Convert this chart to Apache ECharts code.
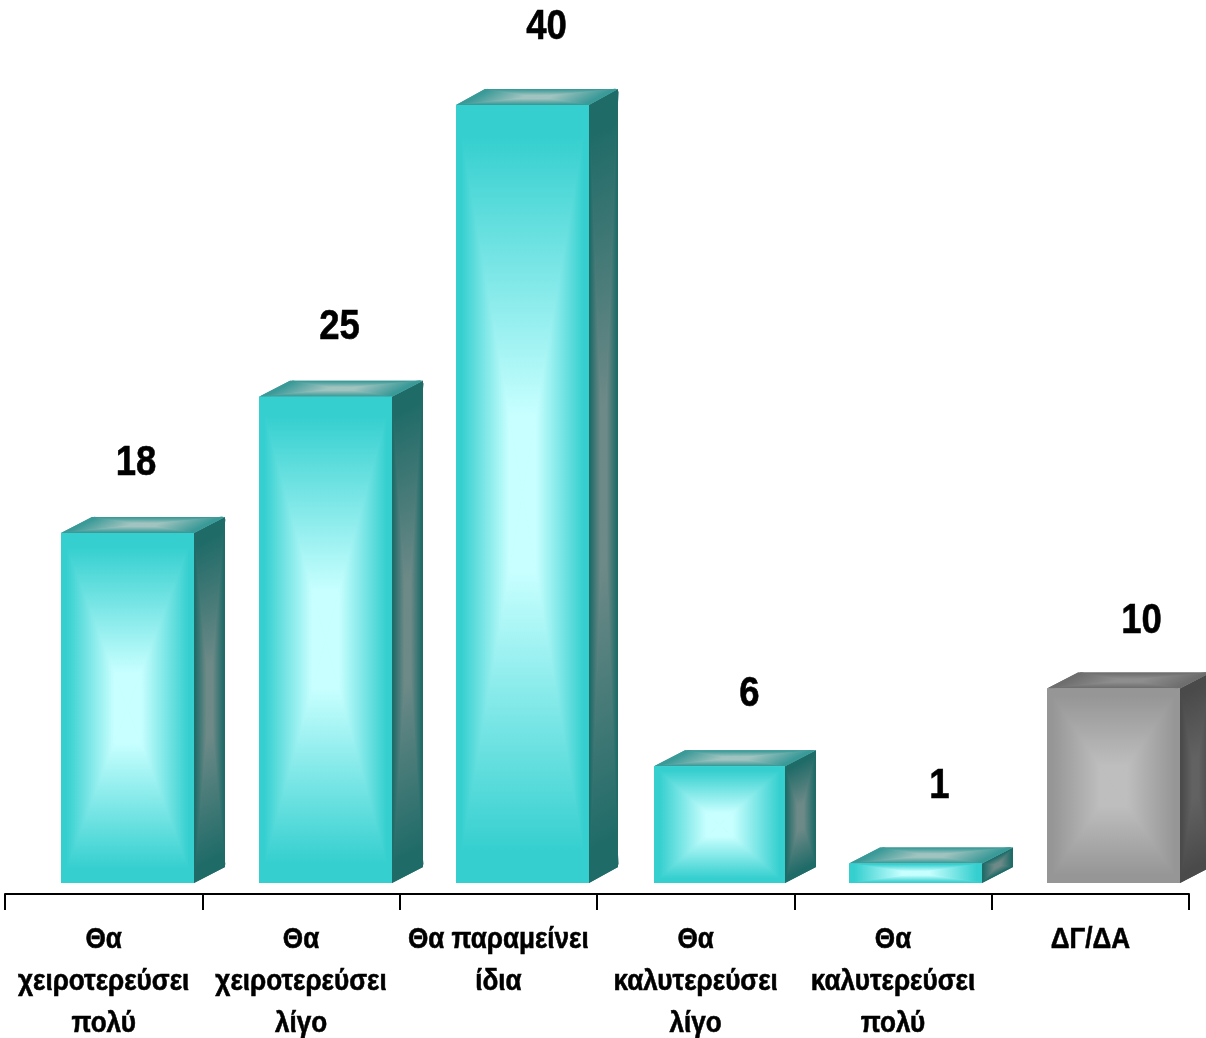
<!DOCTYPE html>
<html>
<head>
<meta charset="utf-8">
<style>html,body{margin:0;padding:0;background:#fff}#c{width:1206px;height:1038px}</style>
<script src="https://cdn.jsdelivr.net/npm/echarts@6/dist/echarts.min.js"></script>
</head>
<body>
<div id="c"></div>
<script>
var categories = ['Θα\nχειροτερεύσει\nπολύ','Θα\nχειροτερεύσει\nλίγο','Θα παραμείνει\nίδια','Θα\nκαλυτερεύσει\nλίγο','Θα\nκαλυτερεύσει\nπολύ','ΔΓ/ΔΑ'];
var values = [18,25,40,6,1,10];

var FONT = '"Liberation Sans",Arial,sans-serif';
var barShift = [24,24.5,24,24.9,22.5,23];
var barWidth = [133,133,133,131,133,133];
var barDepth = [31,31,29,31,31,31];
var labelDX = [8.5,14,24,29,24,28];
var labelDY = [-70,-70,-78,-72,-77,-67];
var teal = {front:['#35CFCF','#C8FFFF'],side:['#1F6B68','#6E8A88'],top:['#3A9A98','#A2C4C0']};
var grey = {front:['#969696','#BEBEBE'],side:['#4A4A4A','#626262'],top:['#6E6E6E','#8E8E8E']};
var DY = 16;

function inset(p,m){
  var dx=m[0]-p[0],dy=m[1]-p[1],len=Math.sqrt(dx*dx+dy*dy)||1,k=Math.min(2.5/len,0.5);
  return [p[0]+dx*k,p[1]+dy*k];
}
function quad(pts, cols){
  var mx=0,my=0,i;
  for(i=0;i<4;i++){mx+=pts[i][0]/4;my+=pts[i][1]/4;}
  var m=[mx,my];
  var out=[{type:'polygon',shape:{points:pts},style:{fill:cols[0]}}];
  for(i=0;i<4;i++){
    var p=pts[i],q=pts[(i+1)%4];
    var ex=q[0]-p[0],ey=q[1]-p[1];
    var t=((mx-p[0])*ex+(my-p[1])*ey)/(ex*ex+ey*ey);
    var fx=p[0]+t*ex,fy=p[1]+t*ey;
    var g={type:'linear',x:fx,y:fy,x2:mx,y2:my,global:true,
        colorStops:[{offset:0,color:cols[0]},{offset:0.08,color:cols[0]},{offset:0.8,color:cols[1]},{offset:1,color:cols[1]}]};
    out.push({type:'polyline',shape:{points:[inset(p,m),m,inset(q,m)]},style:{fill:null,stroke:g,lineWidth:1,lineJoin:'round'}});
    out.push({type:'polygon',shape:{points:[p,q,m]},style:{fill:g}});
  }
  return out;
}

function renderItem(params, api){
  var i=params.dataIndex;
  var top=api.coord([i,api.value(1)]);
  var base=api.coord([i,0]);
  var w=barWidth[i], d=barDepth[i];
  var xl=Math.round(top[0]+barShift[i]-66.5), xr=xl+w, yt=top[1], yb=base[1];
  var c=i===5?grey:teal;
  var kids=[].concat(
    quad([[xr,yt],[xr+d,yt-DY],[xr+d,yb-DY],[xr,yb]],c.side),
    quad([[xl,yt],[xl+d,yt-DY],[xr+d,yt-DY],[xr,yt]],c.top),
    quad([[xl,yt],[xr,yt],[xr,yb],[xl,yb]],c.front)
  );
  kids.push({type:'text',x:xl+66.5+labelDX[i],y:yt+labelDY[i],scaleX:0.85,style:{
    text:String(values[i]),fill:'#000',stroke:'#000',lineWidth:0.6,font:'bold 43px '+FONT,align:'center',verticalAlign:'middle'}});
  kids.push({type:'text',x:top[0],y:918.5,scaleX:0.87,style:{
    text:categories[i],fill:'#000',stroke:'#000',lineWidth:0.6,font:'bold 30px '+FONT,lineHeight:42,align:'center',verticalAlign:'top'}});
  return {type:'group',children:kids};
}

var chart=echarts.init(document.getElementById('c'),null,{renderer:'canvas'});
chart.setOption({
  animation:false,
  backgroundColor:'#fff',
  grid:{left:5,right:17,top:105,bottom:155,outerBoundsMode:'none'},
  xAxis:{type:'category',data:categories,offset:11,boundaryGap:true,
    axisLine:{show:true,onZero:false,lineStyle:{color:'#000',width:2}},
    axisTick:{show:true,length:16,alignWithLabel:false,lineStyle:{color:'#000',width:2}},
    axisLabel:{show:false}},
  yAxis:{type:'value',min:0,max:40,show:false},
  series:[{type:'custom',clip:false,renderItem:renderItem,encode:{x:0,y:1},
    data:values.map(function(v,i){return [i,v];})}]
});
</script>
</body>
</html>
